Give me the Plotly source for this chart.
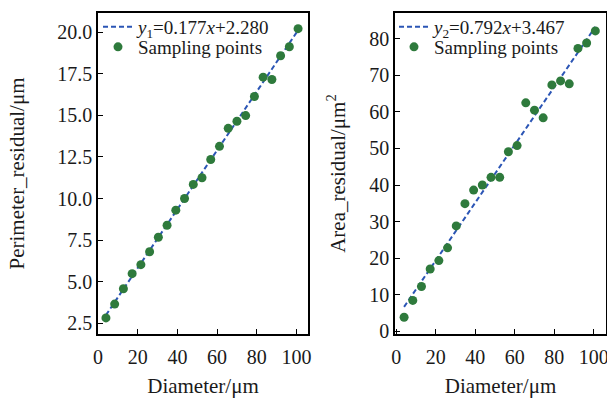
import plotly.graph_objects as go

# ---- data ----
diameter = [4.0, 8.4, 12.8, 17.2, 21.6, 26.0, 30.4, 34.8, 39.2, 43.6, 48.0, 52.4,
            56.8, 61.2, 65.6, 70.0, 74.4, 78.8, 83.2, 87.6, 92.0, 96.4, 100.8]
perimeter_residual = [2.82, 3.65, 4.57, 5.48, 6.02, 6.80, 7.67, 8.39, 9.30, 10.00, 10.85, 11.25,
                      12.35, 13.14, 14.22, 14.65, 14.99, 16.14, 17.30, 17.16, 18.59, 19.13, 20.22]
area_residual = [3.8, 8.4, 12.2, 17.0, 19.3, 22.8, 28.8, 34.9, 38.6, 40.0, 42.1, 42.1,
                 49.1, 50.8, 62.5, 60.5, 58.4, 67.4, 68.5, 67.7, 77.4, 78.9, 82.2]
fit1_slope, fit1_intercept = 0.177, 2.280
fit2_slope, fit2_intercept = 0.792, 3.467
fit_x = [4.0, 100.8]
x_ticks = [0, 20, 40, 60, 80, 100]
y1_ticks = [2.5, 5.0, 7.5, 10.0, 12.5, 15.0, 17.5, 20.0]
y2_ticks = [0, 10, 20, 30, 40, 50, 60, 70, 80]

FONT = "Liberation Serif"
TXT = "#1a1a1a"
GREEN = "#2E7A3C"
BLUE = "#2B55B5"
DASH = "5px,3px"

W, H = 607, 400
ml, mr, mt, mb = 98, 1, 13, 66
pw = W - ml - mr
ph = H - mt - mb


def px_x(p):
    return (p - ml) / pw


def px_y(p):
    return (H - mb - p) / ph


fig = go.Figure()

fig.add_trace(go.Scatter(
    x=fit_x, y=[fit1_slope * v + fit1_intercept for v in fit_x],
    mode="lines", line=dict(color=BLUE, width=2, dash=DASH),
    name="<i>y</i><sub>1</sub>=0.177<i>x</i>+2.280",
    xaxis="x", yaxis="y", legend="legend"))
fig.add_trace(go.Scatter(
    x=diameter, y=perimeter_residual, mode="markers",
    marker=dict(color=GREEN, size=9), name="Sampling points",
    xaxis="x", yaxis="y", legend="legend2"))

fig.add_trace(go.Scatter(
    x=fit_x, y=[fit2_slope * v + fit2_intercept for v in fit_x],
    mode="lines", line=dict(color=BLUE, width=2, dash=DASH),
    name="<i>y</i><sub>2</sub>=0.792<i>x</i>+3.467",
    xaxis="x2", yaxis="y2", legend="legend3"))
fig.add_trace(go.Scatter(
    x=diameter, y=area_residual, mode="markers",
    marker=dict(color=GREEN, size=9), name="Sampling points",
    xaxis="x2", yaxis="y2", legend="legend4"))

axis_common = dict(
    showline=True, linecolor="black", linewidth=1.5, mirror=True,
    ticks="inside", ticklen=5, tickwidth=1.2, tickcolor="black",
    showgrid=False, zeroline=False,
    tickfont=dict(family=FONT, size=20, color=TXT),
    automargin=False, ticklabeloverflow="allow",
)
title_font = dict(family=FONT, size=21, color=TXT)


def leg(xpx, ypx):
    return dict(x=px_x(xpx), y=px_y(ypx), xanchor="left", yanchor="middle",
                bgcolor="rgba(0,0,0,0)", borderwidth=0,
                font=dict(family=FONT, size=19, color=TXT),
                itemwidth=30)


fig.update_layout(
    width=W, height=H,
    margin=dict(l=ml, r=mr, t=mt, b=mb),
    plot_bgcolor="white", paper_bgcolor="white",
    font=dict(family=FONT, color=TXT),
    showlegend=True,
    xaxis=dict(axis_common, domain=[0, px_x(308)], range=[0, 105.8],
               tickvals=x_ticks, anchor="y", ticklabelstandoff=4,
               title=dict(text="Diameter/μm", font=title_font, standoff=12)),
    yaxis=dict(axis_common, domain=[0, 1], range=[1.85, 21.16],
               tickvals=y1_ticks, tickformat=".1f", anchor="x",
               title=dict(text="Perimeter_residual/μm", font=title_font, standoff=27)),
    xaxis2=dict(axis_common, domain=[px_x(395), 1], range=[-0.6, 106.2],
                tickvals=x_ticks, anchor="y2", ticklabelstandoff=4,
                title=dict(text="Diameter/μm", font=title_font, standoff=12)),
    yaxis2=dict(axis_common, domain=[0, 1], range=[-0.8, 87.1],
                tickvals=y2_ticks, anchor="x2",
                title=dict(text="Area_residual/μm<sup>2</sup>", font=title_font, standoff=18)),
    legend=leg(98, 27),
    legend2=leg(98, 47),
    legend3=leg(394, 27),
    legend4=leg(394, 47),
)

fig.write_html("out.html", config={"displayModeBar": False},
               post_script="document.body.style.margin='0';")
